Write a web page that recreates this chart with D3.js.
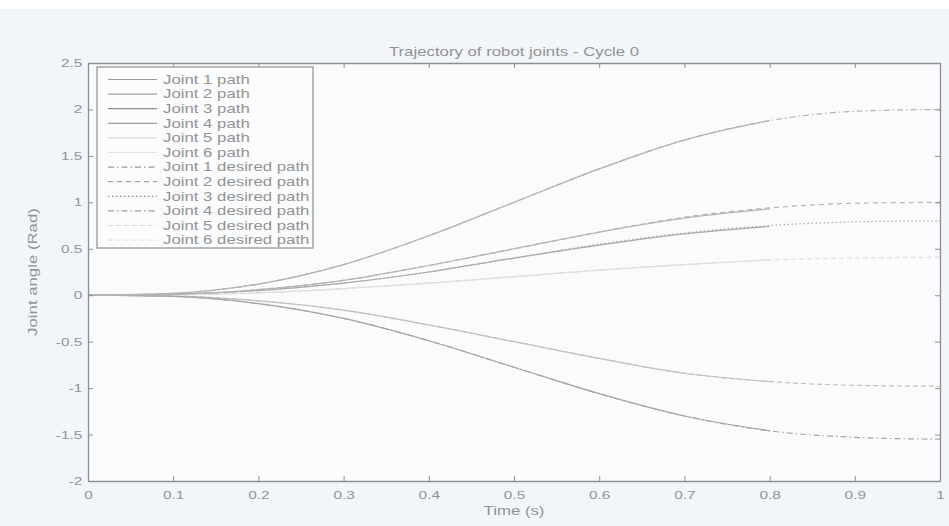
<!DOCTYPE html>
<html>
<head>
<meta charset="utf-8">
<script src="https://cdn.jsdelivr.net/npm/d3@7"></script>
<style>
  body { margin: 0; background: #f2f5f9; }
  svg text { font-family: "Liberation Sans", Arial, sans-serif; fill: #939393; }
</style>
</head>
<body>
<div id="chart"></div>
<script>
// Trajectory of robot joints - Cycle 0 (scanned MATLAB figure)
const width = 949, height = 526;
const margin = { top: 63, right: 9, bottom: 45, left: 88 }; // plot box 88..940, 63..481
const stretch = 1.4; // the scan is stretched sideways, text looks wide and short

// time samples
const desiredTime = [0, 0.1, 0.2, 0.3, 0.4, 0.5, 0.6, 0.7, 0.8, 0.9, 1.0];
const actualTime  = [0, 0.1, 0.2, 0.3, 0.4, 0.5, 0.6, 0.7, 0.8];

// desired joint angles (Rad)
const joint1Desired = [0, 0.02, 0.12, 0.33, 0.64, 1.0, 1.36, 1.67, 1.88, 1.98, 2.0];
const joint2Desired = [0, 0.01, 0.06, 0.16, 0.32, 0.5, 0.68, 0.84, 0.94, 0.99, 1.0];
const joint3Desired = [0, 0.01, 0.05, 0.13, 0.25, 0.4, 0.55, 0.67, 0.75, 0.79, 0.8];
const joint4Desired = [0, -0.013, -0.09, -0.25, -0.49, -0.775, -1.06, -1.3, -1.46, -1.53, -1.55];
const joint5Desired = [0, -0.01, -0.06, -0.16, -0.32, -0.5, -0.68, -0.84, -0.93, -0.97, -0.98];
const joint6Desired = [0, 0.004, 0.025, 0.07, 0.13, 0.2, 0.27, 0.33, 0.38, 0.4, 0.41];

// measured joint angles (Rad), the solid parts stop before the end
const joint1Path = [0, 0.02, 0.12, 0.33, 0.64, 1.0, 1.36, 1.67, 1.88];
const joint2Path = [0, 0.01, 0.06, 0.16, 0.32, 0.5, 0.68, 0.83, 0.93];
const joint3Path = [0, 0.01, 0.05, 0.13, 0.25, 0.4, 0.54, 0.66, 0.74];
const joint4Path = [0, -0.013, -0.09, -0.25, -0.49, -0.775, -1.06, -1.3, -1.46];
const joint5Path = [0, -0.01, -0.06, -0.16, -0.32, -0.5, -0.68, -0.84, -0.93];
const joint6Path = [0, 0.004, 0.025, 0.07, 0.13, 0.2, 0.27, 0.33, 0.38];

const legendLabels = [
  "Joint 1 path", "Joint 2 path", "Joint 3 path", "Joint 4 path", "Joint 5 path", "Joint 6 path",
  "Joint 1 desired path", "Joint 2 desired path", "Joint 3 desired path",
  "Joint 4 desired path", "Joint 5 desired path", "Joint 6 desired path"
];
const xTicks = [0, 0.1, 0.2, 0.3, 0.4, 0.5, 0.6, 0.7, 0.8, 0.9, 1];
const yTicks = [-2, -1.5, -1, -0.5, 0, 0.5, 1, 1.5, 2, 2.5];

// greys of the scan, one per joint, and MATLAB line styles
const colors = ["#b2b2b2", "#b4b4b4", "#a9a9a9", "#a6a6a6", "#c2c2c2", "#dedede"];
const legendColors = ["#9a9a9a", "#a2a2a2", "#8f8f8f", "#9c9c9c", "#d8d8d8", "#e0e0e0"];
const desiredDash = ["6,3,1.5,3", "5,4", "1.5,2.5", "6,3,1.5,3", "5,3", "5,3"];

const series = [
  ...[joint1Path, joint2Path, joint3Path, joint4Path, joint5Path, joint6Path]
    .map((v, i) => ({ t: actualTime, v, color: colors[i], key: legendColors[i], dash: null })),
  ...[joint1Desired, joint2Desired, joint3Desired, joint4Desired, joint5Desired, joint6Desired]
    .map((v, i) => ({ t: desiredTime, v, color: colors[i], key: legendColors[i], dash: desiredDash[i] }))
];

const svg = d3.select("#chart").append("svg")
  .attr("width", width)
  .attr("height", height);

// white strip at the very top of the scan
svg.append("rect").attr("width", width).attr("height", 9).attr("fill", "#ffffff");

const x = d3.scaleLinear().domain([0, 1]).range([margin.left, width - margin.right]);
const y = d3.scaleLinear().domain([-2, 2.5]).range([height - margin.bottom, margin.top]);

svg.append("rect")
  .attr("x", x(0)).attr("y", y(2.5))
  .attr("width", x(1) - x(0)).attr("height", y(-2) - y(2.5))
  .attr("fill", "#f9fbfd");

const line = d3.line()
  .x(d => x(d[0]))
  .y(d => y(d[1]))
  .curve(d3.curveMonotoneX);

// desired first so the solid paths sit on top
series.slice().reverse().forEach(s => {
  svg.append("path")
    .datum(s.t.map((t, i) => [t, s.v[i]]))
    .attr("fill", "none")
    .attr("stroke", s.color)
    .attr("stroke-width", 1.2)
    .attr("stroke-dasharray", s.dash)
    .attr("d", line);
});

// axes: ticks pointing inward on all four sides, MATLAB style
const fmt = d => String(d);
const axisColor = "#8e8e8e";
const styleAxis = g => {
  g.select(".domain").attr("stroke", axisColor).attr("stroke-width", 1.3);
  g.selectAll(".tick line").attr("stroke", axisColor);
  g.selectAll(".tick text").style("font-size", "11px").attr("fill", "#939393");
};
svg.append("g").attr("transform", `translate(0,${y(-2)})`)
  .call(d3.axisBottom(x).tickValues(xTicks).tickFormat(fmt).tickSizeInner(-5).tickSizeOuter(0).tickPadding(10))
  .call(styleAxis)
  .selectAll(".tick text").attr("transform", `scale(${stretch},1)`);
svg.append("g").attr("transform", `translate(0,${y(2.5)})`)
  .call(d3.axisTop(x).tickValues(xTicks).tickFormat("").tickSizeInner(-5).tickSizeOuter(0))
  .call(styleAxis);
svg.append("g").attr("transform", `translate(${x(0)},0)`)
  .call(d3.axisLeft(y).tickValues(yTicks).tickFormat(fmt).tickSizeInner(-5).tickSizeOuter(0).tickPadding(4))
  .call(styleAxis)
  .selectAll(".tick text").attr("transform", `scale(${stretch},1)`);
svg.append("g").attr("transform", `translate(${x(1)},0)`)
  .call(d3.axisRight(y).tickValues(yTicks).tickFormat("").tickSizeInner(-5).tickSizeOuter(0))
  .call(styleAxis);

// titles
const addText = (tx, ty, rot, label) => svg.append("text")
  .attr("transform", `translate(${tx},${ty}) rotate(${rot}) scale(${stretch},1)`)
  .attr("text-anchor", "middle").style("font-size", "12px")
  .text(label);
addText((x(0) + x(1)) / 2, 56, 0, "Trajectory of robot joints - Cycle 0");
addText((x(0) + x(1)) / 2, 515, 0, "Time (s)");
addText(37, (y(2.5) + y(-2)) / 2, -90, "Joint angle (Rad)");

// legend
const legend = svg.append("g").attr("transform", "translate(97,67)");
legend.append("rect")
  .attr("width", 216).attr("height", 181)
  .attr("fill", "#fbfcfd").attr("stroke", "#8e8e8e").attr("stroke-width", 1.2);
legendLabels.forEach((label, i) => {
  const s = series[i];
  const row = legend.append("g").attr("transform", `translate(0,${12.5 + i * 14.6})`);
  row.append("line").attr("x1", 11).attr("x2", 60)
    .attr("stroke", s.key).attr("stroke-width", 1.2)
    .attr("stroke-dasharray", s.dash);
  row.append("text")
    .attr("transform", `translate(66,0) scale(${stretch},1)`)
    .attr("dy", "0.35em")
    .style("font-size", "12px").text(label);
});
</script>
</body>
</html>
